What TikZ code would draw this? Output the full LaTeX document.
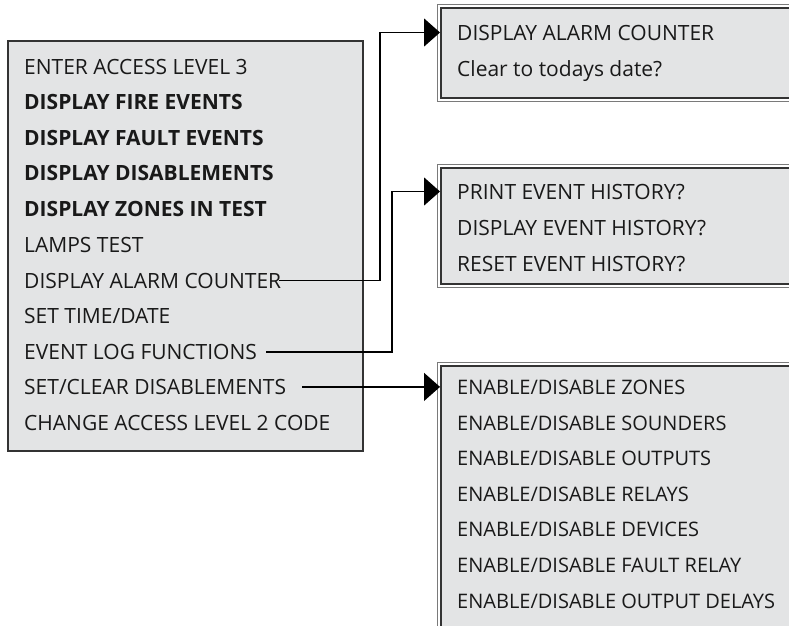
\documentclass[tikz,border=0pt]{standalone}
\usepackage{fontspec}
\setmainfont{Open Sans}
\usetikzlibrary{arrows.meta,positioning,calc}
\definecolor{boxgray}{HTML}{E3E4E5}
\definecolor{rimgray}{HTML}{7A7A7A}

\begin{document}
\begin{tikzpicture}[x=1pt, y=-1pt, font=\fontsize{21}{24}\selectfont]
    % Define styles
    \tikzstyle{menubox} = [rectangle, draw=black!80, line width=1.5pt, fill=boxgray, anchor=north west, inner sep=0pt]
    \tikzstyle{item} = [anchor=base west, inner sep=0pt, text height=15pt, text depth=0pt, text=black!90]
    \tikzstyle{bolditem} = [item, font=\fontsize{21}{24}\selectfont\bfseries]
    \tikzstyle{smallitem} = [item, font=\fontsize{20}{24}\selectfont]
    \tikzstyle{rim} = [draw=rimgray, line width=0.9pt]
    \tikzstyle{arrow} = [line width=1.3pt, -{Triangle[length=16pt, width=28pt]}]

    \useasboundingbox (0,0) rectangle (789,625);
    \clip (0,0) rectangle (789,625);

    % Boxes
    \node [menubox, minimum width=355pt, minimum height=410pt] (menu) at (7,40) {};
    \node [menubox, minimum width=370pt, minimum height=90pt] (counter) at (440,7) {};
    \node [menubox, minimum width=370pt, minimum height=116pt] (history) at (440,167) {};
    \node [menubox, minimum width=370pt, minimum height=280pt] (disable) at (440,365) {};
    \draw [rim] ([shift={(-3,-3)}]counter.north west) rectangle ([shift={(3,3)}]counter.south east);
    \draw [rim] ([shift={(-3,-3)}]history.north west) rectangle ([shift={(3,3)}]history.south east);
    \draw [rim] ([shift={(-3,-3)}]disable.north west) rectangle ([shift={(3,3)}]disable.south east);

    % Menu items
    \node [item] (enter) at (24,74) {ENTER ACCESS LEVEL 3};
    \node [bolditem] (fire) at (24,109.6) {DISPLAY FIRE EVENTS};
    \node [bolditem] (fault) at (24,145.2) {DISPLAY FAULT EVENTS};
    \node [bolditem] (disabl) at (24,180.8) {DISPLAY DISABLEMENTS};
    \node [bolditem] (zones) at (24,216.4) {DISPLAY ZONES IN TEST};
    \node [item] (lamps) at (24,252) {LAMPS TEST};
    \node [item] (alarm) at (24,288) {DISPLAY ALARM COUNTER};
    \node [item] (settime) at (24,323.2) {SET TIME/DATE};
    \node [item] (evlog) at (24,359.5) {EVENT LOG FUNCTIONS};
    \node [item] (setclr) at (24,394.4) {SET/CLEAR DISABLEMENTS};
    \node [item] (chcode) at (24,430) {CHANGE ACCESS LEVEL 2 CODE};

    % Alarm counter box
    \node [item] (cnt1) at (457,40) {DISPLAY ALARM COUNTER};
    \node [item] (cnt2) at (457,76) {Clear to todays date?};

    % Event history box
    \node [item] (hist1) at (457,199) {PRINT EVENT HISTORY?};
    \node [item] (hist2) at (457,235) {DISPLAY EVENT HISTORY?};
    \node [item] (hist3) at (457,271) {RESET EVENT HISTORY?};

    % Disablements box
    \node [smallitem] (dis1) at (457,394.4) {ENABLE/DISABLE ZONES};
    \node [smallitem] (dis2) at (457,430) {ENABLE/DISABLE SOUNDERS};
    \node [smallitem] (dis3) at (457,465.6) {ENABLE/DISABLE OUTPUTS};
    \node [smallitem] (dis4) at (457,501.2) {ENABLE/DISABLE RELAYS};
    \node [smallitem] (dis5) at (457,536.8) {ENABLE/DISABLE DEVICES};
    \node [smallitem] (dis6) at (457,572.4) {ENABLE/DISABLE FAULT RELAY};
    \node [smallitem] (dis7) at (457,608) {ENABLE/DISABLE OUTPUT DELAYS};

    % Arrows
    \coordinate (turnA) at (380,0);
    \coordinate (turnB) at (392,0);
    \draw [arrow] ([xshift=-2pt]alarm.east) -| (turnA |- cnt1) -- (counter.west |- cnt1);
    \draw [arrow] ([xshift=9pt]evlog.east) -| (turnB |- hist1) -- (history.west |- hist1);
    \draw [arrow] ([xshift=16pt]setclr.east) -- (disable.west |- dis1);
\end{tikzpicture}
\end{document}
